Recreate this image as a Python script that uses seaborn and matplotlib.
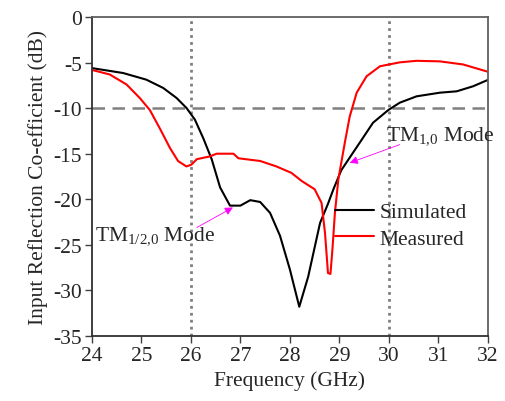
import matplotlib
matplotlib.use("Agg")
import matplotlib.pyplot as plt
import seaborn as sns
import pandas as pd

sim_freq = [24.0, 24.63, 25.1, 25.44, 25.71, 25.91, 26.08, 26.25, 26.42, 26.59, 26.79, 27.0, 27.2, 27.4,
            27.6, 27.8, 28.0, 28.19, 28.37, 28.61, 28.77, 28.88, 29.04, 29.41, 29.68, 29.99, 30.22, 30.56,
            31.03, 31.37, 31.7, 32.0]
sim_s11 = [-5.6, -6.14, -6.87, -7.78, -8.88, -9.97, -11.25, -13.3, -15.6, -18.7, -20.7, -20.7, -20.1, -20.3,
           -21.5, -24.0, -27.7, -31.8, -28.5, -22.6, -20.5, -18.9, -16.8, -13.8, -11.6, -10.2, -9.4, -8.7,
           -8.3, -8.15, -7.6, -6.9]

meas_freq = [24.0, 24.36, 24.7, 24.97, 25.17, 25.37, 25.58, 25.74, 25.91, 26.01, 26.12, 26.38, 26.52, 26.86,
             26.96, 27.4, 27.73, 28.03, 28.24, 28.5, 28.64, 28.71, 28.77, 28.82, 28.86, 28.91, 28.98, 29.11,
             29.21, 29.35, 29.55, 29.82, 30.22, 30.56, 31.03, 31.5, 32.0]
meas_s11 = [-5.8, -6.3, -7.4, -8.9, -10.2, -12.2, -14.4, -15.8, -16.4, -16.2, -15.6, -15.3, -15.0, -15.0,
            -15.5, -15.8, -16.4, -17.1, -18.0, -18.9, -20.4, -23.7, -28.1, -28.2, -25.5, -21.5, -17.8, -13.8,
            -10.9, -8.3, -6.5, -5.4, -4.97, -4.8, -4.86, -5.2, -6.0]

series_names = ["Simulated", "Measured"]
x_ticks = [24, 25, 26, 27, 28, 29, 30, 31, 32]
y_ticks = [0, -5, -10, -15, -20, -25, -30, -35]

sns.set_theme(style="ticks")
plt.rcParams['font.family'] = ['Liberation Serif', 'DejaVu Serif']
plt.rcParams['mathtext.fontset'] = 'custom'
plt.rcParams['mathtext.rm'] = 'Liberation Serif'
plt.rcParams['mathtext.it'] = 'Liberation Serif'
plt.rcParams['axes.unicode_minus'] = False

df = pd.concat([
    pd.DataFrame({"Frequency": sim_freq, "S11": sim_s11, "Series": series_names[0]}),
    pd.DataFrame({"Frequency": meas_freq, "S11": meas_s11, "Series": series_names[1]}),
])

fig = plt.figure(figsize=(5.05, 4.02), dpi=100)
ax = fig.add_axes([0.182, 0.162, 0.784, 0.793])

ax.axvline(26, color='#808080', ls=(0, (1, 1.5)), lw=2, zorder=1)
ax.axvline(30, color='#808080', ls=(0, (1, 1.5)), lw=2, zorder=1)
ax.axhline(-10, color='#808080', ls=(0, (5, 3)), lw=1.8, zorder=1)

sns.lineplot(data=df, x="Frequency", y="S11", hue="Series", palette=["black", "red"],
             ax=ax, lw=1.5, sort=False, estimator=None)

ax.set_xlim(24, 32)
ax.set_ylim(-35, 0)
ax.set_xticks(x_ticks)
ax.set_yticks(y_ticks)
ax.tick_params(labelsize=15.5, length=5, width=1, color='#404040', direction='out', pad=2)
ax.set_xlabel("Frequency (GHz)", fontsize=15.5, labelpad=4)
ax.set_ylabel("Input Reflection Co-efficient (dB)", fontsize=15.5, labelpad=4)
for s in ax.spines.values():
    s.set_color('#606060')
    s.set_linewidth(1.3)
ax.spines['left'].set_color('#303030')
ax.spines['bottom'].set_color('#303030')

leg = ax.legend(loc='upper left', bbox_to_anchor=(0.614, 0.42), frameon=False, fontsize=15.5,
                handlelength=1.8, handletextpad=0.25, labelspacing=0.3, borderaxespad=0, borderpad=0)

ax.text(24.07, -23.9, r"TM$_{\mathrm{1/2{,}0}}$ Mode", fontsize=15.5, ha='left', va='center')
ax.annotate("", xy=(26.85, -20.9), xytext=(26.12, -23.1),
            arrowprops=dict(arrowstyle='-|>', color='magenta', lw=0.6, mutation_scale=12,
                            shrinkA=0, shrinkB=0))
ax.text(29.95, -13.0, r"TM$_{\mathrm{1{,}0}}$ Mode", fontsize=15.5, ha='left', va='center')
ax.annotate("", xy=(29.21, -16.0), xytext=(30.22, -14.0),
            arrowprops=dict(arrowstyle='-|>', color='magenta', lw=0.6, mutation_scale=12,
                            shrinkA=0, shrinkB=0))

fig.savefig("out.png", dpi=100)
